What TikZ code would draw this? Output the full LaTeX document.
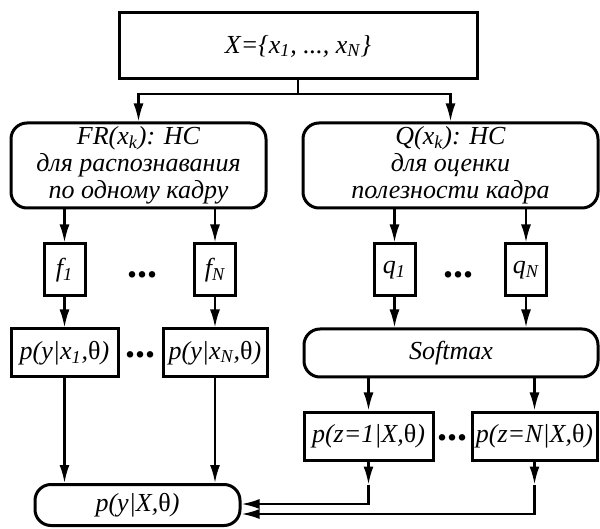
\documentclass[tikz,border=0pt]{standalone}
\usepackage{fontspec}
\setmainfont{Liberation Serif}
\usetikzlibrary{arrows.meta}

\newcommand{\lowix}[1]{\textsubscript{#1}}
\newcommand{\thet}{{\upshape θ}}

\tikzset{
  block/.style={draw, line width=1.5pt, inner sep=0pt, align=center,
    font=\fontsize{13}{13.6}\selectfont\itshape},
  roundblock/.style={block, rounded corners=8pt},
  link/.style={line width=1.1pt, -{Latex[length=9pt,width=5pt]}},
  plainlink/.style={line width=0.9pt},
  gapdots/.style={inner sep=0pt, font=\fontsize{20}{20}\selectfont\bfseries}
}

\begin{document}
\begin{tikzpicture}[x=0.5pt, y=-0.5pt]
  \useasboundingbox (0,0) rectangle (600,529);

  % input
  \node[block, minimum width=179pt, minimum height=33pt] (setX) at (298,46)
    {X=\{x\lowix{1}, ..., x\lowix{N}\}};

  % two networks
  \node[roundblock, minimum width=127.5pt, minimum height=42.5pt] (fr) at (138.5,165.5)
    {FR(x\lowix{k}): НС\\для распознавания\\по одному кадру};
  \node[roundblock, minimum width=147.5pt, minimum height=42.5pt] (qnet) at (450.5,165.5)
    {Q(x\lowix{k}): НС\\для оценки\\полезности кадра};

  % features and scores
  \node[block, minimum width=20.5pt, minimum height=26pt] (f1) at (64.5,270) {f\lowix{1}};
  \node[block, minimum width=20.5pt, minimum height=26pt] (fN) at (215,270) {f\lowix{N}};
  \node[block, minimum width=20.5pt, minimum height=26pt] (q1) at (394.5,270) {q\lowix{1}};
  \node[block, minimum width=20.5pt, minimum height=26pt] (qN) at (526,270) {q\lowix{N}};
  \node[gapdots] (fdots) at (142,275) {...};
  \node[gapdots] (qdots) at (458,275) {...};

  % per-frame posteriors and weights
  \node[block, minimum width=53.5pt, minimum height=24pt] (pyx1) at (64.5,353)
    {p(y|x\lowix{1},\thet)};
  \node[block, minimum width=52pt, minimum height=24pt] (pyxN) at (215,353)
    {p(y|x\lowix{N},\thet)};
  \node[gapdots] (pdots) at (140,355) {...};
  \node[roundblock, minimum width=147pt, minimum height=24pt] (soft) at (451,353) {Softmax};
  \node[block, minimum width=64.5pt, minimum height=24pt] (pz1) at (368.5,436)
    {p(z=1|X,\thet)};
  \node[block, minimum width=62.5pt, minimum height=24pt] (pzN) at (534.5,436)
    {p(z=N|X,\thet)};
  \node[gapdots] (zdots) at (452,438) {...};

  % result
  \node[roundblock, minimum width=102.5pt, minimum height=20.5pt] (pyX) at (137.5,505)
    {p(y|X,\thet)};

  % connectors
  \coordinate (split) at (298,94);
  \draw[plainlink] (setX) -- (split);
  \draw[link] (split) -| (fr);
  \draw[link] (split) -| (qnet);

  \draw[link] (f1 |- fr.south) -- (f1);
  \draw[link] (fN |- fr.south) -- (fN);
  \draw[link] (q1 |- qnet.south) -- (q1);
  \draw[link] (qN |- qnet.south) -- (qN);

  \draw[link] (f1) -- (pyx1);
  \draw[link] (fN) -- (pyxN);
  \draw[link] (q1) -- (q1 |- soft.north);
  \draw[link] (qN) -- (qN |- soft.north);

  \draw[link] (pz1 |- soft.south) -- (pz1);
  \draw[link] (pzN |- soft.south) -- (pzN);

  \draw[link] (pyx1) -- (pyx1 |- pyX.north);
  \draw[link] (pyxN) -- (pyxN |- pyX.north);

  \path (pz1.south) ++(0,23) coordinate (zmid1);
  \path (pzN.south) ++(0,23) coordinate (zmidN);
  \draw[link] (pz1) -- (zmid1);
  \draw[link] (pzN) -- (zmidN);
  \draw[link] (zmid1) |- ([yshift=0.5pt]pyX.east);
  \draw[link] (zmidN) |- ([yshift=-4.5pt]pyX.east);
\end{tikzpicture}
\end{document}
